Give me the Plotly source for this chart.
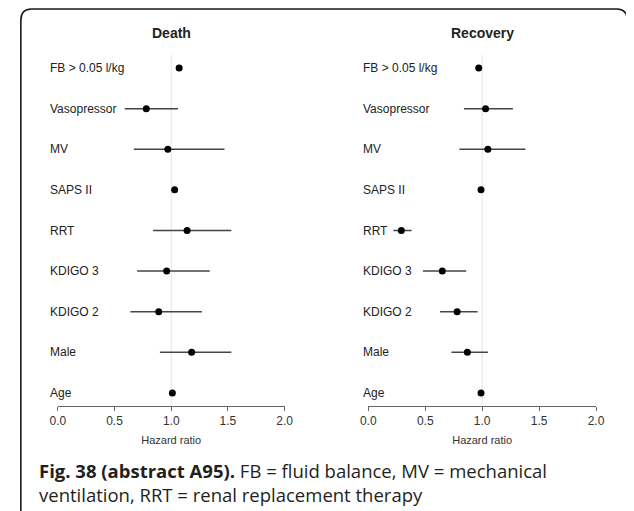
import plotly.graph_objects as go

# Data
categories = ["FB > 0.05 l/kg", "Vasopressor", "MV", "SAPS II", "RRT",
              "KDIGO 3", "KDIGO 2", "Male", "Age"]

death_hr = [1.07, 0.78, 0.97, 1.03, 1.14, 0.96, 0.89, 1.18, 1.01]
death_lo = [1.05, 0.59, 0.67, 1.01, 0.84, 0.70, 0.64, 0.90, 1.00]
death_hi = [1.09, 1.06, 1.47, 1.05, 1.53, 1.34, 1.27, 1.53, 1.02]

recovery_hr = [0.97, 1.03, 1.05, 0.99, 0.29, 0.65, 0.78, 0.87, 0.99]
recovery_lo = [0.95, 0.84, 0.80, 0.98, 0.22, 0.48, 0.63, 0.73, 0.98]
recovery_hi = [0.99, 1.27, 1.38, 1.00, 0.38, 0.86, 0.96, 1.05, 1.00]

x_ticks = [0.0, 0.5, 1.0, 1.5, 2.0]
tick_text = ["0.0", "0.5", "1.0", "1.5", "2.0"]

W, H = 634, 511
# the page puts the plot 8px in from the top-left corner of the window
OX, OY = 8, 8
FONT = "Arial, Liberation Sans, sans-serif"


def px(x):
    # window pixel -> paper fraction
    return (x - OX) / W


def py(y):
    return 1 - (y - OY) / H


fig = go.Figure()

panels = [
    ("Death", death_hr, death_lo, death_hi, "x", "y"),
    ("Recovery", recovery_hr, recovery_lo, recovery_hi, "x2", "y2"),
]

for name, hr, lo, hi, xa, ya in panels:
    fig.add_trace(go.Scatter(
        x=hr,
        y=categories,
        mode="markers",
        marker=dict(color="black", size=7),
        error_x=dict(
            type="data",
            symmetric=False,
            array=[h - m for h, m in zip(hi, hr)],
            arrayminus=[m - l for m, l in zip(hr, lo)],
            color="#454545",
            thickness=1.5,
            width=0,
        ),
        xaxis=xa,
        yaxis=ya,
        showlegend=False,
        hovertemplate="%{y}: %{x:.2f}<extra>" + name + "</extra>",
    ))

axis_common = dict(
    range=[0, 2],
    tickvals=x_ticks,
    ticktext=tick_text,
    showline=True,
    linecolor="#666",
    linewidth=1,
    ticks="outside",
    ticklen=4,
    tickcolor="#666",
    showgrid=False,
    zeroline=False,
    tickfont=dict(family=FONT, size=12, color="#333"),
    title=dict(text="Hazard ratio", font=dict(family=FONT, size=11, color="#333"),
               standoff=8),
)

yaxis_common = dict(
    type="category",
    categoryarray=list(reversed(categories)),
    range=[-0.32, 8.32],
    domain=[py(406), py(55)],
    showticklabels=False,
    showgrid=False,
    zeroline=False,
    showline=False,
)

annotations = []
shapes = []

label_x = {"x": 41, "x2": 362}
for name, hr, lo, hi, xa, ya in panels:
    for cat in categories:
        annotations.append(dict(
            x=px(label_x[xa]), y=cat, xref="paper", yref=ya,
            text=cat, showarrow=False, xanchor="left", yanchor="middle",
            font=dict(family=FONT, size=12, color="#222"),
        ))
    annotations.append(dict(
        x=1.0, y=py(33), xref=xa, yref="paper",
        text="<b>" + name + "</b>", showarrow=False,
        xanchor="center", yanchor="middle",
        font=dict(family=FONT, size=14, color="#222"),
    ))
    # reference line at HR = 1
    shapes.append(dict(
        type="line", x0=1, x1=1, y0=0, y1=1,
        xref=xa, yref=ya + " domain",
        line=dict(color="#e4e4e4", width=1),
        layer="below",
    ))

# caption
annotations.append(dict(
    x=px(30), y=py(470), xref="paper", yref="paper",
    text="<b>Fig. 38 (abstract A95).</b> FB = fluid balance, MV = mechanical",
    showarrow=False, xanchor="left", yanchor="middle",
    font=dict(family="Open Sans", size=18.5, color="#231f20"),
))
annotations.append(dict(
    x=px(30), y=py(494), xref="paper", yref="paper",
    text="ventilation, RRT = renal replacement therapy",
    showarrow=False, xanchor="left", yanchor="middle",
    font=dict(family="Open Sans", size=18.5, color="#231f20"),
))

# rounded frame around the figure
frame = (
    f"M {px(13)},{py(530)} L {px(13)},{py(20)} "
    f"Q {px(13)},{py(9)} {px(24)},{py(9)} "
    f"L {px(625)},{py(9)} Q {px(636)},{py(9)} {px(636)},{py(20)} "
    f"L {px(636)},{py(530)}"
)
shapes.append(dict(
    type="path", path=frame, xref="paper", yref="paper",
    line=dict(color="#1a1a1a", width=1.6),
))

fig.update_layout(
    width=W,
    height=H,
    margin=dict(l=0, r=0, t=0, b=0),
    paper_bgcolor="white",
    plot_bgcolor="white",
    xaxis=dict(axis_common, domain=[px(51), px(284)], anchor="y"),
    yaxis=dict(yaxis_common, anchor="x"),
    xaxis2=dict(axis_common, domain=[px(370), px(604)], anchor="y2"),
    yaxis2=dict(yaxis_common, anchor="x2"),
    annotations=annotations,
    shapes=shapes,
)

fig.write_html("out.html")
